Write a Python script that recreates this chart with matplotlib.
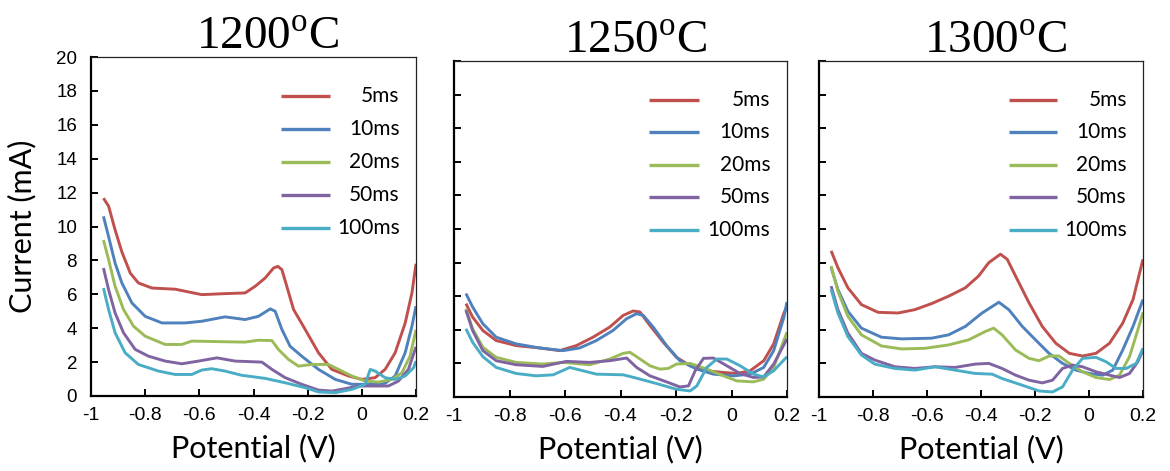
import matplotlib
matplotlib.use('Agg')
import matplotlib.pyplot as plt

plt.rcParams['mathtext.fontset'] = 'custom'
plt.rcParams['mathtext.rm'] = 'Liberation Serif'

temps = ['1200', '1250', '1300']
pulse_labels = ['5ms', '10ms', '20ms', '50ms', '100ms']
colors = ['#C0504D', '#4F81BD', '#9BBB59', '#8064A2', '#4BACC6']

# 1200 C
v1200_5 = [-0.954, -0.935, -0.911, -0.886, -0.855, -0.825, -0.775, -0.689, -0.591, -0.505, -0.431, -0.394, -0.357,
           -0.326, -0.310, -0.295, -0.277, -0.252, -0.230, -0.209, -0.160, -0.111, -0.049, 0.0, 0.049, 0.086, 0.123,
           0.160, 0.185, 0.2]
i1200_5 = [11.67, 11.2, 9.8, 8.5, 7.25, 6.67, 6.37, 6.3, 5.98, 6.04, 6.08, 6.47, 6.96, 7.55, 7.65, 7.45, 6.47, 5.1,
           4.5, 3.92, 2.55, 1.57, 1.18, 0.98, 1.08, 1.57, 2.55, 4.3, 6.08, 7.8]
v1200_10 = [-0.954, -0.935, -0.911, -0.886, -0.849, -0.8, -0.738, -0.652, -0.591, -0.505, -0.431, -0.382, -0.338,
            -0.320, -0.295, -0.265, -0.222, -0.160, -0.098, -0.037, 0.025, 0.086, 0.123, 0.160, 0.185, 0.2]
i1200_10 = [10.6, 9.4, 7.84, 6.67, 5.49, 4.7, 4.31, 4.31, 4.41, 4.67, 4.51, 4.7, 5.14, 5.0, 3.92, 2.94, 2.35, 1.57,
            0.98, 0.69, 0.69, 0.75, 1.18, 2.55, 4.12, 5.3]
v1200_20 = [-0.954, -0.935, -0.911, -0.880, -0.843, -0.8, -0.726, -0.665, -0.628, -0.505, -0.431, -0.382, -0.332,
            -0.308, -0.271, -0.234, -0.185, -0.123, -0.086, -0.037, 0.012, 0.062, 0.111, 0.148, 0.178, 0.2]
i1200_20 = [9.2, 8.04, 6.47, 5.1, 4.12, 3.53, 3.04, 3.04, 3.24, 3.2, 3.18, 3.29, 3.27, 2.75, 2.16, 1.76, 1.86, 1.86,
            1.57, 1.18, 0.88, 0.82, 0.98, 1.37, 2.35, 3.9]
v1200_50 = [-0.954, -0.935, -0.911, -0.880, -0.837, -0.788, -0.726, -0.665, -0.603, -0.535, -0.468, -0.369, -0.332,
            -0.283, -0.222, -0.160, -0.111, -0.062, -0.012, 0.037, 0.098, 0.135, 0.172, 0.2]
i1200_50 = [7.55, 6.27, 4.9, 3.73, 2.75, 2.35, 2.06, 1.9, 2.06, 2.25, 2.06, 2.0, 1.57, 1.08, 0.69, 0.35, 0.29, 0.43,
            0.59, 0.59, 0.59, 0.88, 1.57, 2.9]
v1200_100 = [-0.954, -0.935, -0.911, -0.874, -0.825, -0.751, -0.689, -0.628, -0.591, -0.554, -0.505, -0.443, -0.357,
             -0.283, -0.209, -0.160, -0.098, -0.037, 0.012, 0.031, 0.049, 0.086, 0.123, 0.160, 0.191, 0.2]
i1200_100 = [6.37, 5.1, 3.73, 2.55, 1.86, 1.47, 1.27, 1.27, 1.53, 1.61, 1.47, 1.22, 1.04, 0.78, 0.49, 0.24, 0.2, 0.39,
             0.69, 1.57, 1.47, 1.08, 0.98, 1.18, 1.67, 2.06]

# 1250 C
v1250_5 = [-0.957, -0.933, -0.896, -0.848, -0.776, -0.692, -0.619, -0.559, -0.499, -0.439, -0.390, -0.354, -0.330,
           -0.294, -0.246, -0.198, -0.149, -0.089, -0.029, 0.019, 0.067, 0.116, 0.152, 0.188, 0.2]
i1250_5 = [5.56, 4.76, 3.96, 3.36, 3.06, 2.92, 2.76, 3.06, 3.56, 4.16, 4.86, 5.12, 5.06, 4.26, 3.26, 2.36, 1.86, 1.56,
           1.46, 1.4, 1.56, 2.16, 3.16, 4.96, 5.4]
v1250_10 = [-0.957, -0.933, -0.896, -0.848, -0.776, -0.692, -0.607, -0.547, -0.487, -0.427, -0.378, -0.342, -0.318,
            -0.282, -0.234, -0.186, -0.125, -0.065, 0.007, 0.067, 0.116, 0.152, 0.188, 0.2]
i1250_10 = [6.16, 5.36, 4.36, 3.56, 3.16, 2.92, 2.76, 2.92, 3.36, 3.96, 4.66, 4.96, 4.86, 4.16, 3.06, 2.16, 1.66, 1.36,
            1.26, 1.36, 1.76, 2.76, 4.7, 5.66]
v1250_20 = [-0.957, -0.933, -0.896, -0.848, -0.776, -0.680, -0.607, -0.511, -0.439, -0.390, -0.366, -0.342, -0.294,
            -0.258, -0.228, -0.198, -0.149, -0.089, -0.029, 0.019, 0.079, 0.116, 0.152, 0.2]
i1250_20 = [5.26, 4.06, 2.96, 2.36, 2.06, 1.96, 2.06, 1.92, 2.26, 2.6, 2.66, 2.4, 1.86, 1.66, 1.7, 1.96, 2.0, 1.66,
            1.26, 0.96, 0.9, 1.06, 1.76, 3.86]
v1250_50 = [-0.957, -0.933, -0.896, -0.848, -0.776, -0.680, -0.595, -0.511, -0.439, -0.378, -0.342, -0.294, -0.234,
            -0.186, -0.155, -0.131, -0.101, -0.065, -0.017, 0.031, 0.079, 0.116, 0.152, 0.2]
i1250_50 = [5.16, 3.96, 2.76, 2.16, 1.92, 1.82, 2.12, 2.06, 2.16, 2.32, 1.76, 1.26, 0.9, 0.6, 0.66, 1.56, 2.3, 2.32,
            1.86, 1.4, 1.16, 1.2, 1.96, 3.46]
v1250_100 = [-0.957, -0.933, -0.896, -0.848, -0.776, -0.704, -0.643, -0.583, -0.535, -0.487, -0.390, -0.342, -0.270,
             -0.198, -0.149, -0.125, -0.089, -0.053, -0.017, 0.031, 0.079, 0.116, 0.152, 0.2]
i1250_100 = [4.06, 3.26, 2.4, 1.76, 1.4, 1.26, 1.32, 1.76, 1.56, 1.36, 1.32, 1.12, 0.8, 0.46, 0.36, 0.66, 1.76, 2.26,
             2.26, 1.86, 1.36, 1.2, 1.56, 2.4]

# 1300 C
v1300_5 = [-0.955, -0.930, -0.893, -0.843, -0.781, -0.707, -0.645, -0.583, -0.520, -0.458, -0.409, -0.371, -0.328,
           -0.303, -0.272, -0.222, -0.173, -0.123, -0.073, -0.024, 0.026, 0.076, 0.125, 0.163, 0.2]
i1300_5 = [8.7, 7.7, 6.5, 5.5, 5.04, 5.0, 5.2, 5.56, 6.0, 6.5, 7.2, 8.0, 8.5, 8.2, 7.2, 5.6, 4.2, 3.2, 2.6, 2.44, 2.6,
           3.2, 4.4, 5.8, 8.2]
v1300_10 = [-0.955, -0.930, -0.893, -0.843, -0.769, -0.694, -0.583, -0.520, -0.458, -0.396, -0.334, -0.297, -0.247,
            -0.198, -0.148, -0.098, -0.048, 0.001, 0.051, 0.088, 0.125, 0.163, 0.2]
i1300_10 = [7.7, 6.4, 5.1, 4.1, 3.56, 3.46, 3.5, 3.7, 4.2, 5.0, 5.64, 5.2, 4.2, 3.4, 2.6, 2.0, 1.6, 1.4, 1.3, 1.6,
            2.8, 4.2, 5.8]
v1300_20 = [-0.955, -0.930, -0.893, -0.843, -0.769, -0.694, -0.607, -0.520, -0.446, -0.384, -0.353, -0.322, -0.272,
            -0.222, -0.185, -0.148, -0.111, -0.073, -0.024, 0.026, 0.076, 0.113, 0.150, 0.181, 0.2]
i1300_20 = [7.8, 6.3, 4.8, 3.7, 3.04, 2.86, 2.9, 3.1, 3.4, 3.9, 4.1, 3.7, 2.8, 2.3, 2.16, 2.44, 2.44, 2.0, 1.5, 1.16,
            1.04, 1.3, 2.4, 4.0, 5.04]
v1300_50 = [-0.955, -0.930, -0.893, -0.843, -0.794, -0.719, -0.645, -0.570, -0.496, -0.421, -0.371, -0.322, -0.272,
            -0.222, -0.173, -0.135, -0.098, -0.061, -0.024, 0.026, 0.076, 0.113, 0.150, 0.181, 0.2]
i1300_50 = [6.6, 5.2, 3.8, 2.6, 2.2, 1.8, 1.7, 1.8, 1.76, 1.96, 2.0, 1.7, 1.3, 1.0, 0.84, 1.0, 1.7, 1.9, 1.8, 1.5,
            1.3, 1.16, 1.4, 2.1, 2.8]
v1300_100 = [-0.955, -0.930, -0.893, -0.843, -0.794, -0.719, -0.645, -0.570, -0.496, -0.421, -0.359, -0.322, -0.247,
             -0.185, -0.135, -0.098, -0.061, -0.024, 0.026, 0.063, 0.100, 0.138, 0.175, 0.2]
i1300_100 = [6.4, 5.0, 3.6, 2.5, 1.96, 1.7, 1.6, 1.8, 1.6, 1.4, 1.36, 1.1, 0.7, 0.36, 0.3, 0.6, 1.6, 2.3, 2.36, 2.1,
             1.7, 1.7, 2.0, 2.9]

panels = [
    [(v1200_5, i1200_5), (v1200_10, i1200_10), (v1200_20, i1200_20), (v1200_50, i1200_50), (v1200_100, i1200_100)],
    [(v1250_5, i1250_5), (v1250_10, i1250_10), (v1250_20, i1250_20), (v1250_50, i1250_50), (v1250_100, i1250_100)],
    [(v1300_5, i1300_5), (v1300_10, i1300_10), (v1300_20, i1300_20), (v1300_50, i1300_50), (v1300_100, i1300_100)],
]

W, H = 1170, 471
# axes boxes in pixels: left, top, right, bottom
boxes = [(91, 57, 416, 396), (454, 61, 787, 397), (819, 61, 1143, 397)]

fig = plt.figure(figsize=(W / 100, H / 100), dpi=100)

for k, (temp, curves) in enumerate(zip(temps, panels)):
    l, t, r, b = boxes[k]
    ax = fig.add_axes([l / W, 1 - b / H, (r - l) / W, (b - t) / H])
    for (v, i), c in zip(curves, colors):
        ax.plot(v, i, color=c, lw=2.1, solid_capstyle='butt', solid_joinstyle='round')

    ax.set_xlim(-1, 0.2)
    ax.set_ylim(0, 20)
    ax.set_xticks([-1, -0.8, -0.6, -0.4, -0.2, 0, 0.2])
    ax.set_xticklabels(['-1', '-0.8', '-0.6', '-0.4', '-0.2', '0', '0.2'], family='Liberation Sans', fontsize=14)
    ax.set_yticks(range(0, 21, 2))
    if k == 0:
        ax.set_yticklabels([str(y) for y in range(0, 21, 2)], family='Liberation Sans', fontsize=13.5)
        ax.set_ylabel('Current (mA)', family='Lato', fontsize=22, labelpad=14)
    else:
        ax.set_yticklabels([])
    ax.tick_params(direction='in', length=5, width=1.4, top=False, right=False, color='black')
    ax.tick_params(axis='x', pad=8)
    ax.tick_params(axis='y', pad=10)
    for s in ['left', 'bottom']:
        ax.spines[s].set_linewidth(1.6)
        ax.spines[s].set_color('black')
    for s in ['top', 'right']:
        ax.spines[s].set_linewidth(0.9)
        ax.spines[s].set_color('#222222')
    ax.set_xlabel('Potential (V)', family='Lato', fontsize=22, labelpad=7)

    ax.text(0.545, 1.022, temp + r'$^{\mathrm{o}}$C', transform=ax.transAxes, ha='center', va='baseline',
            family='Liberation Serif', fontsize=34)

    # legend drawn by hand so the labels are right aligned
    for n, (lab, c) in enumerate(zip(pulse_labels, colors)):
        yy = 0.885 - n * 0.097
        ax.plot([0.585, 0.735], [yy, yy], transform=ax.transAxes, color=c, lw=2.4, solid_capstyle='butt')
        ax.text(0.95, yy, lab, transform=ax.transAxes, ha='right', va='center', family='Lato', fontsize=15)

fig.savefig('out.png', dpi=100)
